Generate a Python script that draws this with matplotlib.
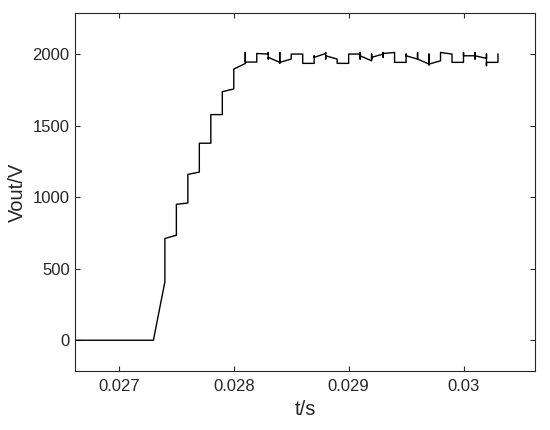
"""Output voltage start-up transient (Vout vs t), MATLAB-style line plot.

    python3 plot.py  ->  out.png
"""

import matplotlib
matplotlib.use("Agg")
import matplotlib.pyplot as plt  # noqa: E402

# time samples (s); repeated times are the vertical switching steps
t = [
    0.02662, 0.0273, 0.0274, 0.0274,
    0.0275, 0.0275, 0.0276, 0.0276, 0.0277, 0.0277,
    0.0278, 0.0278, 0.0279, 0.0279, 0.0280, 0.0280,
    0.0281, 0.0281, 0.0281, 0.0282, 0.0282, 0.0283,
    0.0283, 0.0283, 0.0283, 0.0284,
    0.0284, 0.0284, 0.0284, 0.0285,
    0.0285, 0.0286, 0.0286, 0.0287,
    0.0287, 0.0287, 0.0288,
    0.0288, 0.0288, 0.0288, 0.0289,
    0.0289, 0.0290, 0.0290, 0.0291,
    0.0291, 0.0291, 0.0291, 0.0292,
    0.0292, 0.0292, 0.0292, 0.0293,
    0.0293, 0.0293, 0.0293, 0.0294,
    0.0294, 0.0295, 0.0295, 0.0295, 0.0296,
    0.0296, 0.0296, 0.0296, 0.0297,
    0.0297, 0.0297, 0.0297, 0.0298,
    0.0298, 0.0299, 0.0299, 0.0300,
    0.0300, 0.0300, 0.0300, 0.0301,
    0.0301, 0.0301, 0.0301, 0.0302,
    0.0302, 0.0302, 0.0302, 0.0303, 0.0303,
]

# output voltage (V)
vout = [
    0, 0, 408, 711,
    734, 950, 959, 1159, 1175, 1377,
    1377, 1577, 1577, 1737, 1756, 1895,
    1934, 2011, 1944, 1944, 2004, 2000,
    2011, 1965, 1977, 1942,
    2011, 1935, 1942, 1965,
    2000, 2000, 1935, 1935,
    1988, 1977, 2004,
    2011, 1965, 1988, 1965,
    1935, 1935, 2000, 2000,
    2011, 1965, 1988, 1953,
    2000, 1965, 1977, 2000,
    1977, 2011, 2004, 2011,
    1942, 1942, 2000, 1988, 1965,
    2011, 1965, 1965, 1930,
    2000, 1924, 1930, 1953,
    2011, 2000, 1942, 1942,
    1988, 2011, 1988, 1988,
    2011, 1965, 1988, 1970,
    2000, 1919, 1942, 1942, 2000,
]

xticks = [0.027, 0.028, 0.029, 0.030]
xtick_labels = ["0.027", "0.028", "0.029", "0.03"]
yticks = [0, 500, 1000, 1500, 2000]

AX_COLOR = "#262626"

plt.rcParams["font.family"] = ["Liberation Sans", "DejaVu Sans"]

fig = plt.figure(figsize=(5.5, 4.3), dpi=100)
ax = fig.add_axes([0.1369, 0.1372, 0.8353, 0.8319])

ax.plot(t, vout, color="black", linewidth=1.0)

ax.set_xlim(0.02662, 0.03062)
ax.set_ylim(-215, 2285)
ax.set_xticks(xticks)
ax.set_xticklabels(xtick_labels)
ax.set_yticks(yticks)

ax.tick_params(direction="in", length=3.5, width=0.8, colors=AX_COLOR,
               labelsize=12, top=True, right=True)
ax.tick_params(axis="x", pad=6)
ax.tick_params(axis="y", pad=4)
for s in ax.spines.values():
    s.set_color(AX_COLOR)
    s.set_linewidth(0.8)

ax.set_xlabel("t/s", fontsize=14.5, color=AX_COLOR, labelpad=4)
ax.set_ylabel("Vout/V", fontsize=14.5, color=AX_COLOR, labelpad=4)

fig.savefig("out.png", dpi=100)
